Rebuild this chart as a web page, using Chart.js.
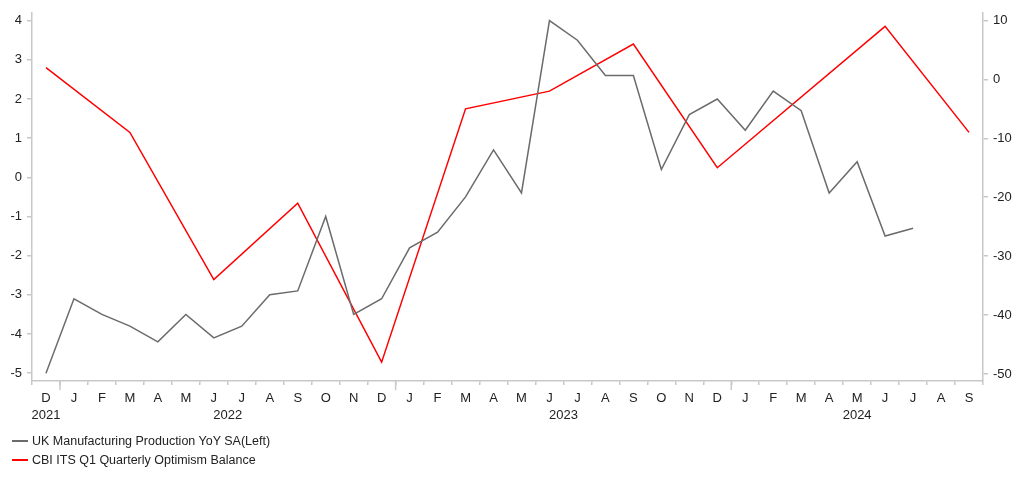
<!DOCTYPE html>
<html>
<head>
<meta charset="utf-8">
<script src="https://cdn.jsdelivr.net/npm/chart.js@4.4.1/dist/chart.umd.min.js"></script>
<style>
body { margin: 0; background: #fff; font-family: "Liberation Sans", Arial, sans-serif; }
#wrap { position: relative; width: 1022px; height: 483px; }
#legend { position: absolute; left: 12px; top: 431px; font-size: 12.5px; color: #222; }
.item { display: flex; align-items: center; height: 19px; }
.swatch { width: 16px; height: 0; border-top: 2px solid; margin-right: 4px; }
</style>
</head>
<body>
<div id="wrap">
  <canvas id="chart" width="1022" height="483"></canvas>
  <div id="legend"></div>
</div>
<script>
// Months Dec 2021 .. Sep 2024
const months = ["D","J","F","M","A","M","J","J","A","S","O","N","D",
                "J","F","M","A","M","J","J","A","S","O","N","D",
                "J","F","M","A","M","J","J","A","S"];
const years = ["2021","2022","2023","2024"];

// UK Manufacturing Production YoY SA (left axis)
const production = [-5.0,-3.1,-3.5,-3.8,-4.2,-3.5,-4.1,-3.8,-3.0,-2.9,-1.0,-3.5,-3.1,
                    -1.8,-1.4,-0.5,0.7,-0.4,4.0,3.5,2.6,2.6,0.2,1.6,2.0,
                    1.2,2.2,1.7,-0.4,0.4,-1.5,-1.3,null,null];

// CBI ITS quarterly optimism balance (right axis), quarterly readings only
const optimism = [2,null,null,-9,null,null,-34,null,null,-21,null,null,-48,
                  null,null,-5,null,null,-2,null,null,6,null,null,-15,
                  null,null,null,null,null,9,null,null,-9];

const leftTicks = [-5,-4,-3,-2,-1,0,1,2,3,4];
const rightTicks = [-50,-40,-30,-20,-10,0,10];

const seriesNames = ["UK Manufacturing Production YoY SA(Left)", "CBI ITS Q1 Quarterly Optimism Balance"];
const seriesColors = ["#6b6b6b", "#ff0000"];

const axisColor = "#c8c8c8";
const textColor = "#222";
const font = { family: "'Liberation Sans', Arial, sans-serif", size: 13 };

// year ticks and labels under the month axis
const yearAxis = {
    id: "yearAxis",
    afterDraw(chart) {
        const x = chart.scales.x;
        const ctx = chart.ctx;
        const bottom = x.top;
        // split months into years (a new year starts after each "D")
        let spans = [];
        let start = 0;
        for (let i = 1; i <= months.length; i++) {
            if (i === months.length || months[i - 1] === "D") {
                spans.push([start, i - 1]);
                start = i;
            }
        }
        ctx.save();
        ctx.strokeStyle = axisColor;
        ctx.lineWidth = 1.5;
        ctx.fillStyle = textColor;
        ctx.font = "13px 'Liberation Sans', Arial, sans-serif";
        ctx.textAlign = "center";
        ctx.textBaseline = "middle";
        spans.forEach((s, k) => {
            if (k > 0) {
                const bx = (x.getPixelForValue(s[0] - 1) + x.getPixelForValue(s[0])) / 2;
                ctx.beginPath();
                ctx.moveTo(bx, bottom);
                ctx.lineTo(bx, bottom + 9);
                ctx.stroke();
            }
            const cx = (x.getPixelForValue(s[0]) + x.getPixelForValue(s[1])) / 2;
            ctx.fillText(years[k], cx, bottom + 34);
        });
        ctx.restore();
    }
};

const ctx = document.getElementById("chart").getContext("2d");

const chart = new Chart(ctx, {
    type: "line",
    data: {
        labels: months,
        datasets: [{
            label: seriesNames[0],
            data: production,
            borderColor: seriesColors[0],
            borderWidth: 1.5,
            pointRadius: 0,
            tension: 0,
            yAxisID: "y"
        }, {
            label: seriesNames[1],
            data: optimism,
            borderColor: seriesColors[1],
            borderWidth: 1.5,
            pointRadius: 0,
            tension: 0,
            spanGaps: true,
            yAxisID: "y1"
        }]
    },
    options: {
        responsive: false,
        animation: false,
        layout: { padding: { top: 9, bottom: 62, left: 0, right: 0 } },
        plugins: {
            legend: { display: false },
            tooltip: { enabled: false }
        },
        scales: {
            x: {
                type: "category",
                offset: true,
                afterFit(scale) { scale.height = 40; },
                grid: {
                    offset: true,
                    drawOnChartArea: false,
                    color: axisColor,
                    tickLength: 4,
                    lineWidth: 1.5
                },
                border: { color: axisColor, width: 1.5 },
                ticks: {
                    color: textColor,
                    font: font,
                    padding: 6,
                    maxRotation: 0,
                    autoSkip: false
                }
            },
            y: {
                position: "left",
                min: -5.2,
                max: 4.2,
                afterFit(scale) { scale.width = 32; },
                afterBuildTicks(scale) { scale.ticks = leftTicks.map(v => ({ value: v })); },
                grid: { drawOnChartArea: false, color: axisColor, tickLength: 5, lineWidth: 1.5 },
                border: { color: axisColor, width: 1.5 },
                ticks: { color: textColor, font: font, padding: 5 }
            },
            y1: {
                position: "right",
                min: -51.2,
                max: 11.3,
                afterFit(scale) { scale.width = 39; },
                afterBuildTicks(scale) { scale.ticks = rightTicks.map(v => ({ value: v })); },
                grid: { drawOnChartArea: false, color: axisColor, tickLength: 5, lineWidth: 1.5 },
                border: { color: axisColor, width: 1.5 },
                ticks: { color: textColor, font: font, padding: 5 }
            }
        }
    },
    plugins: [yearAxis]
});

// Legend (two rows, bottom left)
const legend = document.getElementById("legend");
seriesNames.forEach((name, i) => {
    const item = document.createElement("div");
    item.className = "item";
    const sw = document.createElement("span");
    sw.className = "swatch";
    sw.style.borderColor = seriesColors[i];
    const label = document.createElement("span");
    label.textContent = name;
    item.appendChild(sw);
    item.appendChild(label);
    legend.appendChild(item);
});
</script>
</body>
</html>
